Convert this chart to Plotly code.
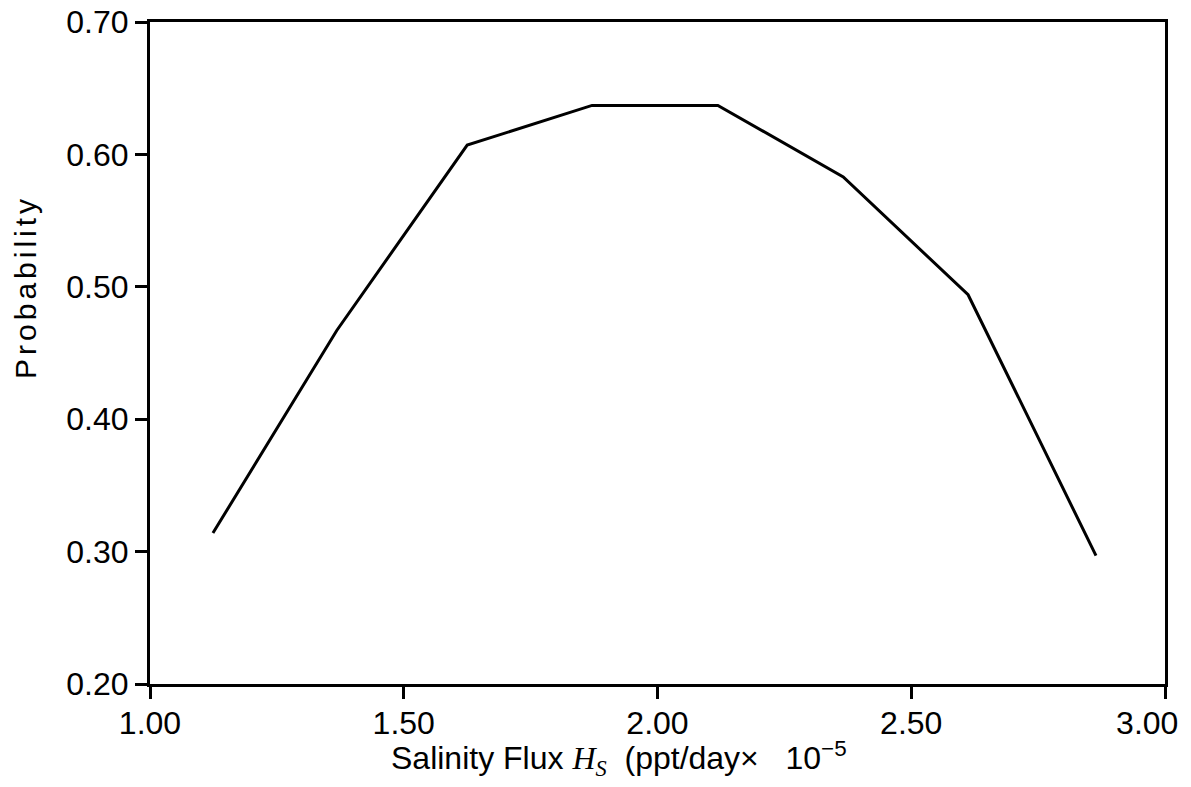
import plotly.graph_objects as go

flux = [1.124, 1.368, 1.625, 1.871, 2.119, 2.366, 2.612, 2.864]
probability = [0.314, 0.467, 0.607, 0.637, 0.637, 0.583, 0.494, 0.297]
x_ticks = [1.0, 1.5, 2.0, 2.5, 3.0]
y_ticks = [0.2, 0.3, 0.4, 0.5, 0.6, 0.7]

FONT = "Liberation Sans, Arial, sans-serif"
NB = "\u00a0"

fig = go.Figure()
fig.add_trace(go.Scatter(x=flux, y=probability, mode="lines",
                         line=dict(color="black", width=3), showlegend=False))

axis_common = dict(showline=True, linecolor="black", linewidth=3, mirror=True,
                   ticks="outside", ticklen=12, tickwidth=3, tickcolor="black",
                   showgrid=False, zeroline=False, ticklabeloverflow="allow",
                   automargin=False,
                   tickfont=dict(family=FONT, size=32, color="black"))

x_text = [f"{v:.2f}" for v in x_ticks]
x_text[-1] = x_text[-1] + NB * 4  # last label pulled in to fit the page

fig.update_xaxes(range=[1.0, 3.0], tickvals=x_ticks, ticktext=x_text,
                 ticklabelstandoff=-3, **axis_common)
fig.update_yaxes(range=[0.2, 0.7], tickvals=y_ticks,
                 ticktext=[f"{v:.2f}" for v in y_ticks], **axis_common)

fig.add_annotation(
    text="Salinity Flux <span style='font-family:Liberation Serif, Times New Roman, serif'><i>H<sub>S</sub></i></span>  (ppt/day×   10<sup>−5</sup>",
    xref="paper", yref="paper", x=0.462, y=-0.113, xanchor="center", yanchor="middle",
    showarrow=False, font=dict(family=FONT, size=32, color="black"))
fig.add_annotation(
    text="<span style='letter-spacing:4px'>Probability</span>",
    xref="paper", yref="paper", x=-0.122, y=0.60, xanchor="center", yanchor="middle",
    textangle=-90, showarrow=False, font=dict(family=FONT, size=30, color="black"))

fig.update_layout(width=1191, height=787, plot_bgcolor="white", paper_bgcolor="white",
                  margin=dict(l=150, r=26, t=22, b=103))

fig.write_html("out.html")
